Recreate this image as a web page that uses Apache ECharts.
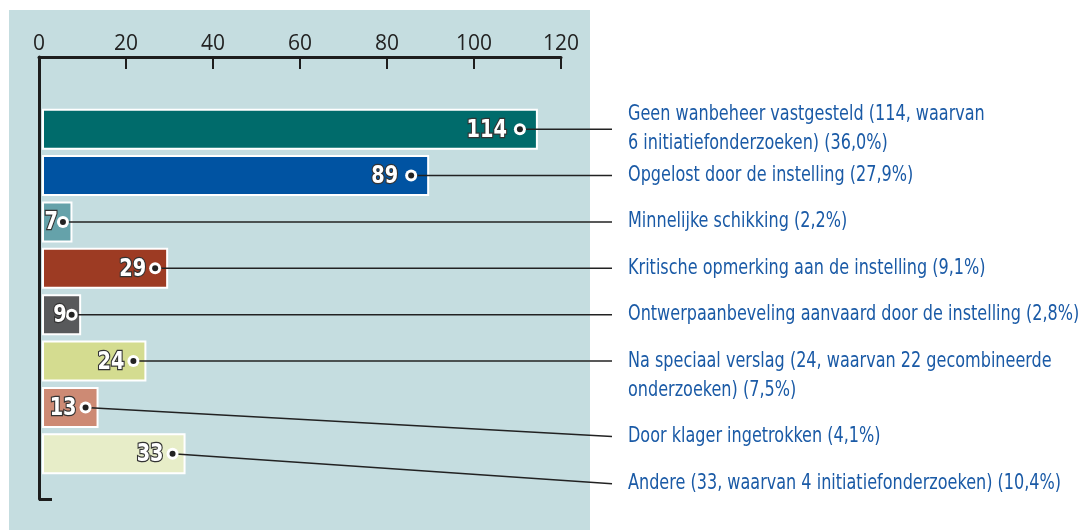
<!DOCTYPE html>
<html>
<head>
<meta charset="utf-8">
<script src="https://cdn.jsdelivr.net/npm/echarts@6/dist/echarts.min.js"></script>
<style>
  html, body { margin: 0; padding: 0; background: #fff; }
  #chart { width: 1092px; height: 530px; }
</style>
</head>
<body>
<div id="chart"></div>
<script>
// data
const values = [114, 89, 7, 29, 9, 24, 13, 33];
const labels = [
  'Geen wanbeheer vastgesteld (114, waarvan\n6 initiatiefonderzoeken) (36,0%)',
  'Opgelost door de instelling (27,9%)',
  'Minnelijke schikking (2,2%)',
  'Kritische opmerking aan de instelling (9,1%)',
  'Ontwerpaanbeveling aanvaard door de instelling (2,8%)',
  'Na speciaal verslag (24, waarvan 22 gecombineerde\nonderzoeken) (7,5%)',
  'Door klager ingetrokken (4,1%)',
  'Andere (33, waarvan 4 initiatiefonderzoeken) (10,4%)'
];
const ticks = [0, 20, 40, 60, 80, 100, 120];

// styles / layout
const barColors = ['#006b6b', '#0053a2', '#65a2aa', '#9d3b23', '#58595b', '#d4dc90', '#cd8a74', '#e7edc8'];
const leaderDrop = [0, 0, 0, 0, 0, 0, 29, 30];   // px shift of leader end vs bar centre
const textDrop = [0, 0, 0, 0, 0, 15, 29, 30];     // px shift of text block centre
const narrow = '"DejaVu Sans Condensed", "Liberation Sans Narrow", sans-serif';

function markGap(v) { return v >= 50 ? 18 : (v >= 10 ? 13 : 9.5); }
function numGap(v) { return v >= 50 ? 13 : (v >= 10 ? 9 : 5); }

const chart = echarts.init(document.getElementById('chart'));

chart.setOption({
  animation: false,
  graphic: [{
    type: 'rect', z: -10, silent: true,
    shape: { x: 9, y: 10, width: 581, height: 520 },
    style: { fill: '#c5dde0' }
  }],
  grid: [
    { left: 39, top: 57, width: 522, height: 442 },
    { left: 42, top: 106, width: 522, height: 371 }
  ],
  xAxis: [{
    gridIndex: 0, type: 'value', position: 'top',
    min: ticks[0], max: ticks[ticks.length - 1], interval: 20,
    axisLine: { show: true, lineStyle: { color: '#1d1d1d', width: 3 } },
    axisTick: { show: true, inside: true, length: 12, lineStyle: { color: '#1d1d1d', width: 2 } },
    axisLabel: { margin: 2, color: '#222', fontSize: 21, fontFamily: '"Open Sans", "Liberation Sans", sans-serif' },
    splitLine: { show: false }
  }, {
    gridIndex: 1, type: 'value', min: 0, max: 120, show: false
  }],
  yAxis: [{
    gridIndex: 0, type: 'value', min: 0, max: 1, interval: 1, inverse: true,
    axisLine: { show: true, lineStyle: { color: '#1d1d1d', width: 3 } },
    axisTick: { show: true, inside: true, length: 13, lineStyle: { color: '#1d1d1d', width: 3 } },
    axisLabel: { show: false },
    splitLine: { show: false }
  }, {
    gridIndex: 1, type: 'category', inverse: true, show: false,
    data: labels
  }],
  series: [{
    type: 'bar', xAxisIndex: 1, yAxisIndex: 1,
    barWidth: 41,
    data: values.map((v, i) => ({ value: v, itemStyle: { color: barColors[i] } })),
    itemStyle: { borderColor: '#fff', borderWidth: 2 }
  }, {
    type: 'custom', xAxisIndex: 1, yAxisIndex: 1, clip: false, z: 5,
    data: values.map((v, i) => [v, i]),
    encode: { x: 0, y: 1 },
    renderItem: function (params, api) {
      const i = params.dataIndex;
      const v = api.value(0);
      const p = api.coord([v, api.value(1)]);
      const cs = params.coordSys;
      const mx = p[0] - markGap(v);
      const ex = cs.x + cs.width + 48;
      return {
        type: 'group',
        children: [{
          type: 'line',
          shape: { x1: mx, y1: p[1], x2: ex, y2: p[1] + leaderDrop[i] },
          style: { stroke: '#222', lineWidth: 1.4 }
        }, {
          type: 'circle', shape: { cx: mx, cy: p[1], r: 6 },
          style: { fill: '#fff' }
        }, {
          type: 'circle', shape: { cx: mx, cy: p[1], r: 3 },
          style: { fill: '#222' }
        }, {
          type: 'text',
          x: mx - numGap(v), y: p[1] + 1, scaleX: 0.86,
          style: {
            text: String(v), x: 0, y: 0,
            align: 'right', verticalAlign: 'middle',
            fill: '#fff', stroke: '#333', lineWidth: 2.5,
            font: 'bold 25px ' + narrow
          }
        }, {
          type: 'text',
          x: ex + 16, y: p[1] + textDrop[i], scaleX: 0.85,
          style: {
            text: labels[i], x: 0, y: 0,
            align: 'left', verticalAlign: 'middle', lineHeight: 29,
            fill: '#1a5aa6', font: '21px ' + narrow
          }
        }]
      };
    }
  }]
});
</script>
</body>
</html>
